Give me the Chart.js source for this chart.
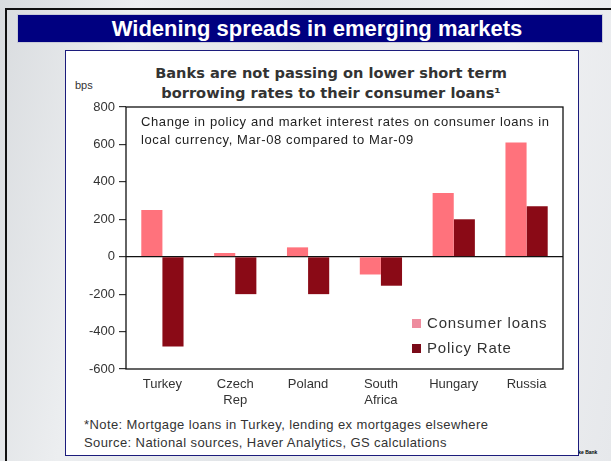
<!DOCTYPE html>
<html>
<head>
<meta charset="utf-8">
<script src="https://cdn.jsdelivr.net/npm/chart.js@4.4.0/dist/chart.umd.min.js"></script>
<style>
  html, body { margin: 0; padding: 0; }
  body {
    width: 611px; height: 461px; overflow: hidden; position: relative;
    background: linear-gradient(100deg, #d9dcdf 0%, #eceef0 20%, #e2e5e8 45%, #f0f1f3 75%, #e6e8eb 100%);
    font-family: "Liberation Sans", Arial, sans-serif;
  }
  .frameTop { position: absolute; left: 5px; top: 8px; width: 606px; height: 2px; background: #111; }
  .frameLeft { position: absolute; left: 5px; top: 8px; width: 2px; height: 453px; background: #111; }
  #banner {
    position: absolute; left: 17px; top: 14px; width: 586px; height: 29px;
    background: #000080; border: 1px solid #c8cad8; box-sizing: border-box; padding-left: 14px;
    color: #fff; font-weight: bold; font-size: 22px; line-height: 27px; text-align: center;
  }
  #logo { position: absolute; left: 566px; top: 449px; font-size: 5px; font-weight: bold; color: #000; }
  #panel {
    position: absolute; left: 65px; top: 50px; width: 514px; height: 406px;
    background: #fff; border: 1.5px solid #1c1c7c; box-sizing: border-box; z-index: 2;
  }
  #ctitle {
    position: absolute; left: 15px; top: 12px; width: 500px; text-align: center;
    font-family: "DejaVu Sans", Verdana, sans-serif; font-weight: bold; font-size: 14.6px;
    line-height: 20px; color: #333;
  }
  #bps { position: absolute; left: 9px; top: 28px; font-size: 11px; color: #333; }
  #chart { position: absolute; left: 0; top: 0; }
  #note {
    position: absolute; left: 75px; top: 62px; font-size: 13px; letter-spacing: 0.6px;
    line-height: 18px; color: #222; white-space: nowrap;
  }
  #legend {
    position: absolute; left: 346px; top: 259px; font-size: 15px; letter-spacing: 0.8px;
    color: #333; line-height: 25px; white-space: nowrap;
  }
  #legend span.sw { display: inline-block; width: 9px; height: 9px; margin-right: 6px; }
  #foot {
    position: absolute; left: 18px; top: 365px; font-size: 13px; letter-spacing: 0.4px;
    line-height: 18px; color: #333; white-space: nowrap;
  }
</style>
</head>
<body>
<div class="frameTop"></div>
<div class="frameLeft"></div>
<div id="banner">Widening spreads in emerging markets</div>
<div id="logo">Danske Bank</div>
<div id="panel">
  <div id="ctitle">Banks are not passing on lower short term<br>borrowing rates to their consumer loans¹</div>
  <div id="bps">bps</div>
  <canvas id="chart" width="511" height="360"></canvas>
  <div id="note">Change in policy and market interest rates on consumer loans in<br>local currency, Mar-08 compared to Mar-09</div>
  <div id="legend">
    <div><span class="sw" style="background:#ee8c9e"></span>Consumer loans</div>
    <div><span class="sw" style="background:#7a0a18"></span>Policy Rate</div>
  </div>
  <div id="foot">*Note: Mortgage loans in Turkey, lending ex mortgages elsewhere<br>Source: National sources, Haver Analytics, GS calculations</div>
</div>
<script>
// countries and the change in rates, bps
var paises = [['Turkey'], ['Czech', 'Rep'], ['Poland'], ['South', 'Africa'], ['Hungary'], ['Russia']];
var prestamos = [250, 20, 50, -95, 340, 610];
var tasaPolitica = [-480, -200, -200, -155, 200, 270];
var ticksY = [-600, -400, -200, 0, 200, 400, 600, 800];

// box around the plot area
var marcoPlugin = {
    id: 'marco',
    afterDraw: function (chart) {
        var a = chart.chartArea, ctx = chart.ctx;
        ctx.save();
        ctx.strokeStyle = '#111';
        ctx.lineWidth = 1.3;
        ctx.strokeRect(a.left, a.top, a.right - a.left, a.bottom - a.top);
        ctx.restore();
    }
};

var grafico = new Chart(document.getElementById('chart'), {
    type: 'bar',
    data: {
        labels: paises,
        datasets: [{
            label: 'Consumer loans',
            data: prestamos,
            backgroundColor: '#ff727c'
        }, {
            label: 'Policy Rate',
            data: tasaPolitica,
            backgroundColor: '#8a0a16'
        }]
    },
    options: {
        responsive: false,
        animation: false,
        layout: { padding: { top: 56, right: 14, left: 0, bottom: 0 } },
        plugins: { legend: { display: false }, tooltip: { enabled: false } },
        datasets: { bar: { categoryPercentage: 0.58, barPercentage: 1 } },
        scales: {
            x: {
                grid: { display: false },
                border: { display: false },
                ticks: { color: '#333', font: { family: 'Liberation Sans', size: 13, lineHeight: 1.2 }, padding: 0, maxRotation: 0 },
                afterFit: function (scale) { scale.height = 42; }
            },
            y: {
                min: -600, max: 800,
                afterBuildTicks: function (scale) {
                    scale.ticks = ticksY.map(function (v) { return { value: v }; });
                },
                grid: {
                    drawOnChartArea: true,
                    drawTicks: true,
                    tickLength: 7,
                    tickColor: '#333',
                    lineWidth: 1.2,
                    color: function (ctx) { return ctx.tick && ctx.tick.value === 0 ? '#111' : 'rgba(0,0,0,0)'; }
                },
                border: { display: false },
                ticks: { color: '#333', font: { family: 'Liberation Sans', size: 13 }, padding: 4 },
                afterFit: function (scale) { scale.width = 60; }
            }
        }
    },
    plugins: [marcoPlugin]
});
</script>
</body>
</html>
